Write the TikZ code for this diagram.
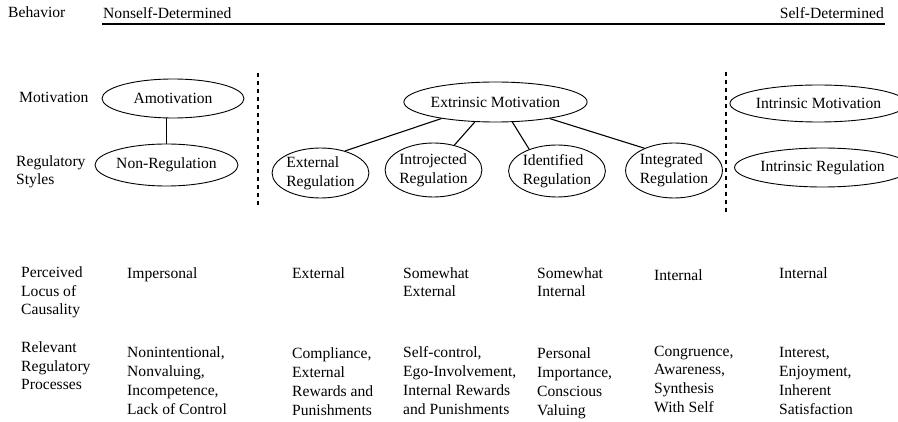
\documentclass[tikz,border=0pt]{standalone}
\usepackage{fontspec}
\setmainfont{Liberation Serif}
\usetikzlibrary{shapes.geometric, positioning}

\begin{document}
\begin{tikzpicture}[x=1pt, y=-1pt, font=\fontsize{15.6}{19}\selectfont,
    oval/.style={draw, ellipse, line width=0.9pt, inner sep=0pt, align=left},
    lbl/.style={anchor=base west, inner sep=0pt, align=left},
    link/.style={line width=1.1pt},
    divider/.style={line width=1.2pt, dash pattern=on 4.5pt off 3.5pt}]
    \useasboundingbox (0,0) rectangle (898,422);
    % behaviour axis
    \node[lbl] (behav) at (8,18) {Behavior};
    \node[lbl] (nonself) at (103,19) {Nonself-Determined};
    \node[lbl, anchor=base east] (self) at (884,19) {Self-Determined};
    \coordinate (axl) at (102,24);
    \coordinate (axr) at (885,24);
    \draw[line width=2pt] (axl) -- (axr);
    % row labels (placed by the baseline of their last line)
    \node[lbl] (motlbl) at (19,103) {Motivation};
    \node[lbl, font=\fontsize{15.6}{18}\selectfont] (reglbl) at (16,185) {Regulatory\\Styles};
    \node[lbl, font=\fontsize{15.6}{18.5}\selectfont] (loclbl) at (21,315) {Perceived\\Locus of\\Causality};
    \node[lbl, font=\fontsize{15.6}{18.5}\selectfont] (prclbl) at (21,390) {Relevant\\Regulatory\\Processes};
    % dividers
    \coordinate (d1t) at (258,73);
    \coordinate (d1b) at (258,205);
    \coordinate (d2t) at (726,72);
    \coordinate (d2b) at (726,212);
    \draw[divider] (d1t) -- (d1b);
    \draw[divider] (d2t) -- (d2b);
    % amotivation
    \node[oval, minimum width=142, minimum height=39] (amot) at (173,98.5) {Amotivation};
    \node[oval, minimum width=143, minimum height=42] (nonreg) at (166.5,165) {Non-Regulation};
    \draw[link] (nonreg.north) -- (nonreg.north |- amot.south);
    % extrinsic motivation
    \node[oval, minimum width=145, minimum height=40] (extr) at (495.5,102) {Extrinsic Motivation};
    \node[oval, minimum width=91, minimum height=50] (ext) at (320.5,173) {External\\Regulation};
    \node[oval, minimum width=87, minimum height=54] (intro) at (433.5,170) {Introjected\\Regulation};
    \node[oval, minimum width=90, minimum height=52] (ident) at (557,171) {Identified\\Regulation};
    \node[oval, minimum width=90, minimum height=55] (integ) at (674,170.5) {Integrated\\Regulation};
    \draw[link] (extr.197) -- (ext.42);
    \draw[link] (extr.224) -- (intro.50);
    \draw[link] (extr.310) -- (ident.142);
    \draw[link] (extr.343) -- (integ.143);
    % intrinsic motivation
    \node[oval, minimum width=141, minimum height=37] (intrmot) at (818.5,103.5) {Intrinsic Motivation};
    \node[oval, minimum width=139, minimum height=39] (intrreg) at (822.5,167.5) {Intrinsic Regulation};
    % locus of causality
    \node[lbl] (loc1) at (127,279) {Impersonal};
    \node[lbl] (loc2) at (292,279) {External};
    \node[lbl, font=\fontsize{15.6}{18.5}\selectfont] (loc3) at (403,297) {Somewhat\\External};
    \node[lbl, font=\fontsize{15.6}{18.5}\selectfont] (loc4) at (537,297) {Somewhat\\Internal};
    \node[lbl] (loc5) at (654,281) {Internal};
    \node[lbl] (loc6) at (779,279) {Internal};
    % regulatory processes
    \node[lbl] (prc1) at (127,414) {Nonintentional,\\Nonvaluing,\\Incompetence,\\Lack of Control};
    \node[lbl] (prc2) at (292,415) {Compliance,\\External\\Rewards and\\Punishments};
    \node[lbl] (prc3) at (403,414) {Self-control,\\Ego-Involvement,\\Internal Rewards\\and Punishments};
    \node[lbl] (prc4) at (537,415) {Personal\\Importance,\\Conscious\\Valuing};
    \node[lbl] (prc5) at (654,413) {Congruence,\\Awareness,\\Synthesis\\With Self};
    \node[lbl] (prc6) at (779,414) {Interest,\\Enjoyment,\\Inherent\\Satisfaction};
\end{tikzpicture}
\end{document}
